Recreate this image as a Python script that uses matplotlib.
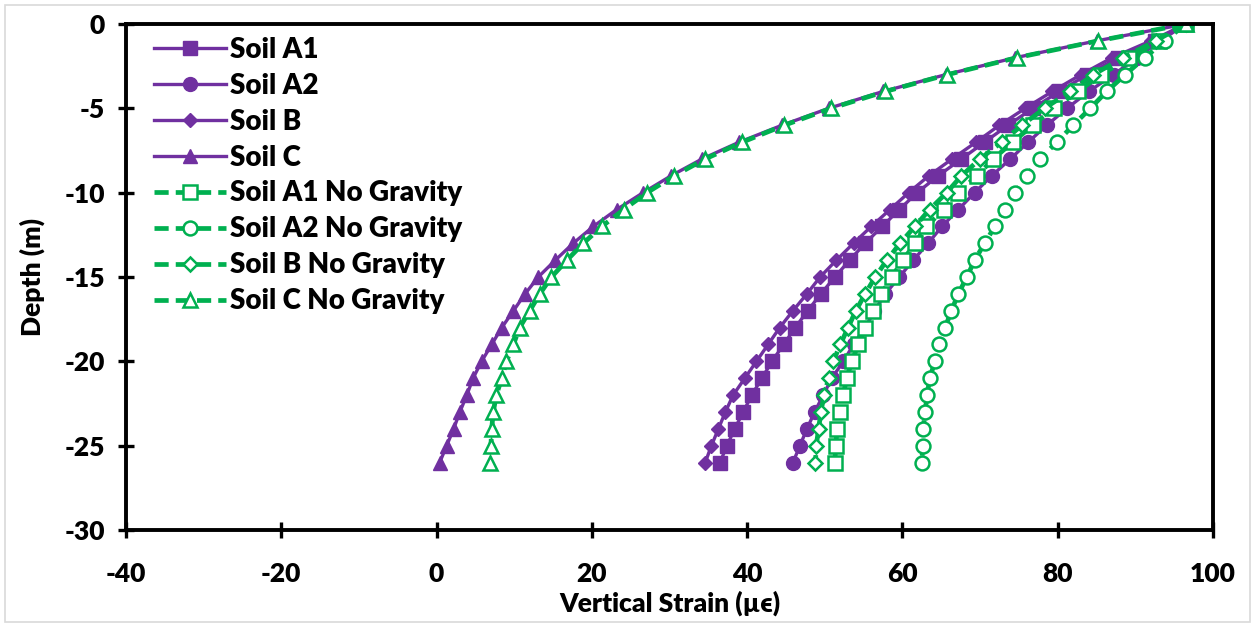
import matplotlib
matplotlib.use('Agg')
import matplotlib.pyplot as plt
from matplotlib.patches import Rectangle

plt.rcParams['font.family'] = ['Lato', 'DejaVu Sans']
plt.rcParams['font.weight'] = 'bold'
plt.rcParams['axes.unicode_minus'] = False

# depth (m), 1 m steps from surface
depth = [0, -1, -2, -3, -4, -5, -6, -7, -8, -9, -10, -11, -12, -13,
         -14, -15, -16, -17, -18, -19, -20, -21, -22, -23, -24, -25, -26]

# vertical strain (micro strain)
soil_a1 = [96.5, 92.5, 87.8, 83.8, 80.2, 76.8, 73.6, 70.6, 67.6, 64.6, 61.9, 59.6, 57.4, 55.2,
           53.2, 51.3, 49.5, 47.8, 46.2, 44.7, 43.2, 41.9, 40.6, 39.5, 38.4, 37.4, 36.5]
soil_a2 = [96.5, 93.2, 90.2, 87.2, 84.0, 81.2, 78.6, 76.2, 73.9, 71.5, 69.3, 67.2, 65.1, 63.3,
           61.4, 59.6, 57.8, 56.4, 55.2, 53.7, 52.4, 50.9, 49.8, 48.7, 47.7, 46.8, 45.9]
soil_b = [96.5, 92.0, 87.0, 83.0, 79.3, 75.8, 72.5, 69.5, 66.4, 63.4, 60.8, 58.4, 56.0, 53.7,
          51.5, 49.4, 47.7, 45.9, 44.2, 42.7, 41.2, 39.7, 38.2, 37.2, 36.3, 35.4, 34.6]
soil_c = [96.5, 85.0, 74.5, 65.6, 57.5, 50.5, 44.5, 39.0, 34.2, 30.2, 26.6, 23.2, 20.2, 17.6,
          15.3, 13.1, 11.4, 9.9, 8.4, 7.1, 5.8, 4.7, 3.9, 3.0, 2.2, 1.3, 0.4]
soil_a1_ng = [96.5, 93.0, 89.2, 85.6, 82.6, 79.5, 76.8, 74.2, 71.7, 69.6, 67.2, 65.3, 63.1, 61.6,
              60.1, 58.6, 57.3, 56.2, 55.2, 54.3, 53.5, 52.8, 52.4, 52.0, 51.6, 51.4, 51.3]
soil_a2_ng = [96.5, 93.8, 91.2, 88.7, 86.3, 84.2, 82.0, 79.9, 77.7, 76.0, 74.5, 73.2, 71.9, 70.6,
              69.3, 68.3, 67.2, 66.3, 65.5, 64.7, 64.2, 63.5, 63.2, 62.9, 62.7, 62.6, 62.5]
soil_b_ng = [96.5, 92.6, 88.4, 84.6, 81.6, 78.3, 75.4, 72.8, 70.0, 67.6, 65.7, 63.5, 61.6, 59.7,
             58.0, 56.5, 55.2, 54.0, 53.0, 52.0, 51.1, 50.5, 49.9, 49.5, 49.2, 48.9, 48.8]
soil_c_ng = [96.5, 85.2, 74.7, 65.8, 57.8, 50.8, 44.8, 39.4, 34.6, 30.6, 27.1, 24.1, 21.3, 18.9,
             16.8, 14.8, 13.3, 12.0, 10.7, 9.9, 9.0, 8.4, 7.7, 7.3, 7.1, 7.0, 6.9]

purple = '#7030A0'
green = '#00B050'

fig = plt.figure(figsize=(12.55, 6.27), dpi=100)
ax = fig.add_axes([126 / 1255, 1 - 530 / 627, (1213 - 126) / 1255, (530 - 24) / 627])

# gravity cases: solid purple, filled markers
ax.plot(soil_a1, depth, color=purple, lw=2.4, marker='s', ms=9.5, label='Soil A1')
ax.plot(soil_a2, depth, color=purple, lw=2.4, marker='o', ms=10, label='Soil A2')
ax.plot(soil_b, depth, color=purple, lw=2.4, marker='D', ms=7.5, label='Soil B')
ax.plot(soil_c, depth, color=purple, lw=2.4, marker='^', ms=10, label='Soil C')

# no gravity: dashed green, open markers
ng = dict(color=green, lw=3.4, dashes=(3, 1.5), mfc='white', mec=green, mew=1.8)
ax.plot(soil_a1_ng, depth, marker='s', ms=9.5, label='Soil A1 No Gravity', **ng)
ax.plot(soil_a2_ng, depth, marker='o', ms=10, label='Soil A2 No Gravity', **ng)
ax.plot(soil_b_ng, depth, marker='D', ms=7.5, label='Soil B No Gravity', **ng)
ax.plot(soil_c_ng, depth, marker='^', ms=10, label='Soil C No Gravity', **ng)

ax.set_xlim(-40, 100)
ax.set_ylim(-30, 0)
ax.set_xticks(range(-40, 101, 20))
ax.set_yticks(range(-30, 1, 5))
for s in ax.spines.values():
    s.set_linewidth(2.8)
ax.tick_params(direction='inout', length=12, width=2.4, labelsize=19)
ax.tick_params(axis='x', pad=17)
ax.tick_params(axis='y', pad=9)
for lab in ax.get_xticklabels() + ax.get_yticklabels():
    lab.set_fontweight('heavy')

ax.set_xlabel('Vertical Strain (µϵ)', fontsize=19, fontweight='heavy', labelpad=3)
ax.set_ylabel('Depth (m)', fontsize=19, fontweight='heavy', labelpad=14)

leg = ax.legend(loc='upper left', bbox_to_anchor=(0.014, 1.0), frameon=False,
                prop={'size': 20, 'weight': 'heavy'}, handlelength=2.6,
                handletextpad=0.15, labelspacing=0.36, borderaxespad=0.05)

# light chart-area border
fig.patches.append(Rectangle((5 / 1255, 5 / 627), 1245 / 1255, 617 / 627,
                             transform=fig.transFigure, fill=False,
                             edgecolor='#d9d9d9', lw=1.2))

fig.savefig('out.png', dpi=100)
